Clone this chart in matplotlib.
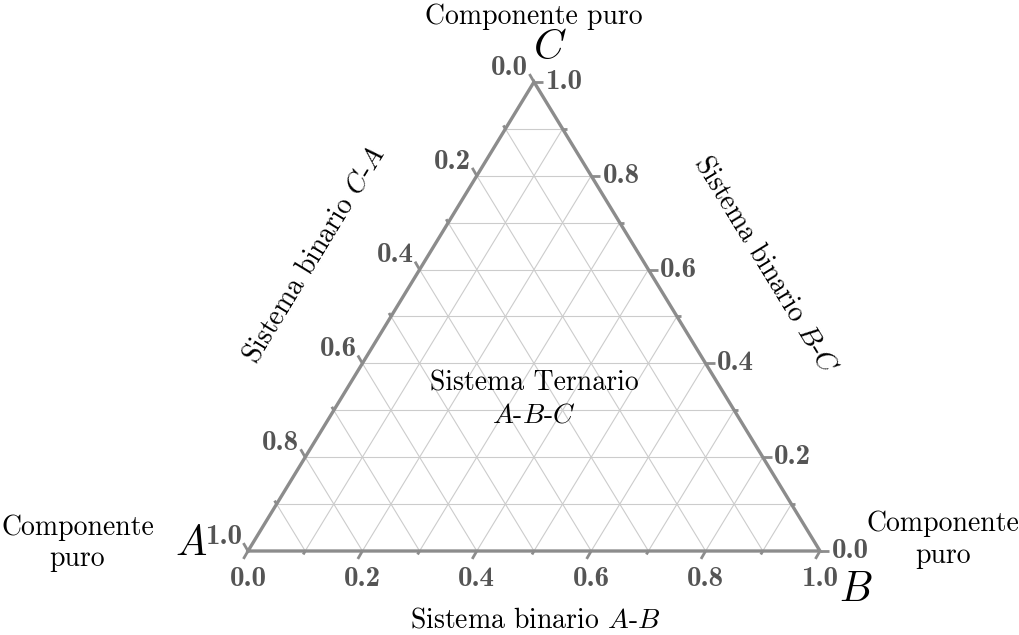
import numpy as np
import matplotlib
matplotlib.use('Agg')
import matplotlib.pyplot as plt

plt.rcParams['font.family'] = 'cmr10'
plt.rcParams['mathtext.fontset'] = 'cm'
plt.rcParams['axes.unicode_minus'] = False

# ternary data
grid_vals = [0.1, 0.2, 0.3, 0.4, 0.5, 0.6, 0.7, 0.8, 0.9]
tick_vals = [0.0, 0.1, 0.2, 0.3, 0.4, 0.5, 0.6, 0.7, 0.8, 0.9, 1.0]
label_vals = [0.0, 0.2, 0.4, 0.6, 0.8, 1.0]

H = 0.82  # height of triangle (squashed as in the original)

axis_col = '#8c8c8c'
grid_col = '#cccccc'
lab_col = '#555555'


def tern(a, b, c):
    a, b, c = np.asarray(a, float), np.asarray(b, float), np.asarray(c, float)
    return b + 0.5 * c, H * c


fig = plt.figure(figsize=(10.2, 6.35), dpi=100)
ax = fig.add_axes([0, 0, 1, 1])
ax.set_xlim(-248 / 572, (1020 - 248) / 572)
ax.set_ylim(-(635 - 551) / 572, 551 / 572)
ax.axis('off')

# grid lines
for v in grid_vals:
    # constant c
    x, y = tern([1 - v, 0], [0, 1 - v], [v, v])
    ax.plot(x, y, color=grid_col, lw=0.8, zorder=1)
    # constant b
    x, y = tern([1 - v, 0], [v, v], [0, 1 - v])
    ax.plot(x, y, color=grid_col, lw=0.8, zorder=1)
    # constant a
    x, y = tern([v, v], [1 - v, 0], [0, 1 - v])
    ax.plot(x, y, color=grid_col, lw=0.8, zorder=1)

# triangle edges
x, y = tern([1, 0, 0, 1], [0, 1, 0, 0], [0, 0, 1, 0])
ax.plot(x, y, color=axis_col, lw=2.4, zorder=3, solid_joinstyle='miter')

# ticks: extensions of grid lines outward
for v in tick_vals:
    ln = 0.016 if round(v * 10) % 2 == 0 else 0.007
    # bottom axis (b value), direction down-left
    x0, y0 = tern(1 - v, v, 0)
    ax.plot([x0, x0 - 0.5 * ln], [y0, y0 - ln * 0.866], color=axis_col, lw=2, zorder=3,
            solid_capstyle='butt')
    # left axis (a value), direction up-left
    x0, y0 = tern(v, 0, 1 - v)
    ax.plot([x0, x0 - 0.5 * ln], [y0, y0 + ln * 0.866], color=axis_col, lw=2, zorder=3,
            solid_capstyle='butt')
    # right axis (c value), horizontal right
    x0, y0 = tern(0, 1 - v, v)
    ax.plot([x0, x0 + ln], [y0, y0], color=axis_col, lw=2, zorder=3,
            solid_capstyle='butt')

tick_font = dict(family='cmb10', fontsize=21, color=lab_col)
for v in label_vals:
    s = f'{v:.1f}'
    x0, y0 = tern(1 - v, v, 0)
    ax.text(x0, y0 - 0.026, s, ha='center', va='top', **tick_font)
    x0, y0 = tern(v, 0, 1 - v)
    ax.text(x0 - 0.010, y0 + 0.002, s, ha='right', va='bottom', **tick_font)
    x0, y0 = tern(0, 1 - v, v)
    ax.text(x0 + 0.020, y0, s, ha='left', va='center', **tick_font)

# labels
fs = 20
ang = np.degrees(np.arctan2(H, 0.5))
ax.text(0.5, 0.934, 'Componente puro', ha='center', va='center', fontsize=fs)
ax.text(0.528, 0.879, '$C$', ha='center', va='center', fontsize=30)
ax.text(-0.100, 0.012, '$A$', ha='center', va='center', fontsize=30)
ax.text(1.062, -0.068, '$B$', ha='center', va='center', fontsize=30)
ax.text(-0.298, 0.014, 'Componente\npuro', ha='center', va='center', fontsize=fs,
        linespacing=1.25)
ax.text(1.215, 0.020, 'Componente\npuro', ha='center', va='center', fontsize=fs,
        linespacing=1.25)
ax.text(0.502, -0.121, 'Sistema binario $A$-$B$', ha='center', va='center', fontsize=fs)
ax.text(0.117, 0.517, 'Sistema binario $C$-$A$', ha='center', va='center', fontsize=fs,
        rotation=ang, rotation_mode='anchor')
ax.text(0.904, 0.50, 'Sistema binario $B$-$C$', ha='center', va='center', fontsize=fs,
        rotation=-ang, rotation_mode='anchor')
ax.text(0.5, 0.265, 'Sistema Ternario\n$A$-$B$-$C$', ha='center', va='center', fontsize=fs,
        linespacing=1.25)

fig.savefig('out.png', dpi=100, facecolor='white')
